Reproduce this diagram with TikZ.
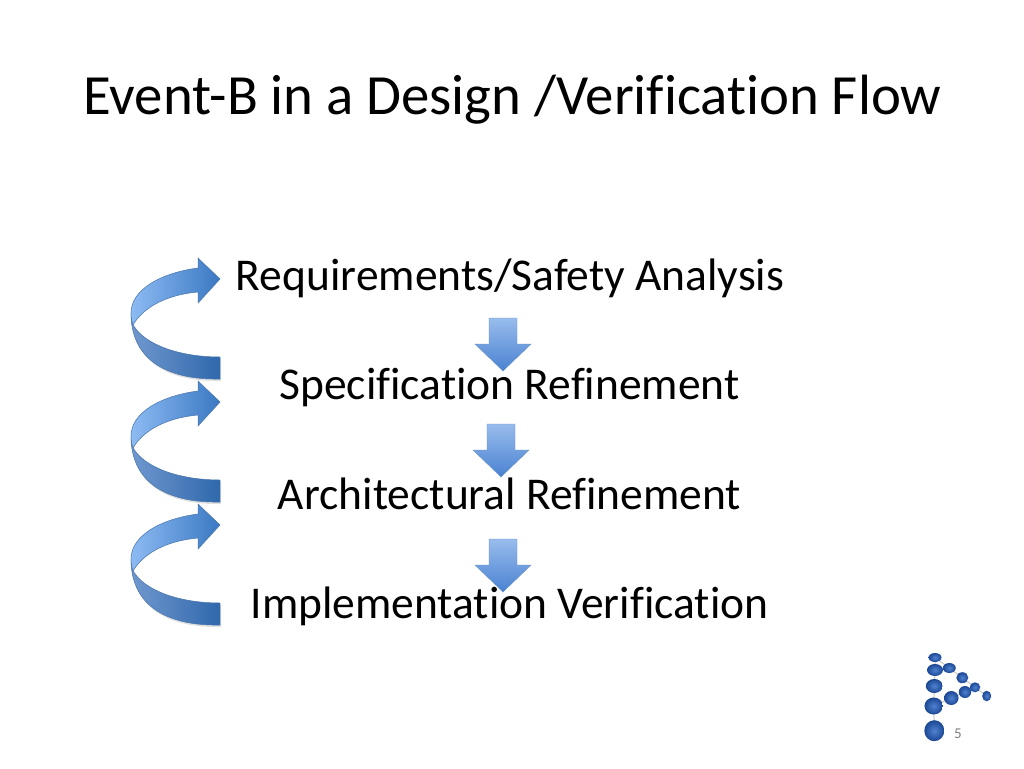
\documentclass[tikz,border=0pt]{standalone}
\usepackage{fontspec}
\setmainfont[Ligatures=NoCommon]{Carlito}
\usetikzlibrary{shapes.geometric}
\definecolor{edgeblue}{HTML}{4F81BD}
\definecolor{upperL}{HTML}{8DBBF3}
\definecolor{upperR}{HTML}{3A78C2}
\definecolor{lowerL}{HTML}{7098CE}
\definecolor{lowerR}{HTML}{2F68AC}
\definecolor{arrowtop}{HTML}{98BCEC}
\definecolor{arrowbot}{HTML}{4A82D2}
\definecolor{ballin}{HTML}{4F82D0}
\definecolor{ballout}{HTML}{1B4794}
\tikzset{
  x=1pt,y=-1pt,
  titletext/.style={anchor=base,inner sep=0pt,font=\fontsize{56.8}{64}\selectfont,text=black},
  bodytext/.style={anchor=base,inner sep=0pt,font=\fontsize{45.5}{52}\selectfont,text=black},
  upperband/.style={draw=edgeblue!90!black,line width=0.5pt,left color=upperL,right color=upperR},
  lowerband/.style={draw=edgeblue!90!black,line width=0.5pt,left color=lowerL,right color=lowerR},
  softshadow/.style={fill=black,opacity=0.12,draw=none},
  sphere/.style={ellipse,inner sep=0pt,inner color=ballin,outer color=ballout,draw=none},
  logolink/.style={draw=black!22,line width=1pt}
}
\newcommand{\curvedarrow}[1]{%
  \begin{scope}[yshift=-#1pt]
    \fill[softshadow] (134,325) .. controls (146,347) and (181,359) .. (221,359)
      -- (221,381) .. controls (171,382) and (133,364) .. (133,318) -- cycle;
    \path[lowerband] (133,325) .. controls (145,345) and (180,357) .. (220,357)
      -- (220,379) .. controls (170,380) and (131,362) .. (131,313) -- cycle;
    \path[upperband] (198,268) -- (198,258) -- (220,279) -- (198,303) -- (198,292)
      .. controls (165,295) and (143,308) .. (133,325)
      .. controls (132,322) and (131,318) .. (131,313)
      .. controls (131,290) and (160,273) .. (198,268) -- cycle;
  \end{scope}}
\newcommand{\straightarrow}[2]{%
  \path[draw=edgeblue!85,line width=0.4pt,top color=arrowtop,bottom color=arrowbot]
    (#1-14,#2) -- (#1+14,#2) -- (#1+14,#2+26) -- (#1+28,#2+26) -- (#1,#2+53) -- (#1-28,#2+26) -- (#1-14,#2+26) -- cycle;}
\begin{document}
\begin{tikzpicture}
\useasboundingbox (0,0) rectangle (1024,768);
\fill[white] (0,0) rectangle (1024,768);
% curved arrows
\curvedarrow{0}
\curvedarrow{123}
\curvedarrow{246}
% straight arrows
\straightarrow{503}{318}
\straightarrow{501}{424}
\straightarrow{503}{539}
% text
\node[titletext] (title) at (512.5,114) {Event-B in a Design /Verification Flow};
\node[bodytext] (req) at (510,290) {Requirements/Safety Analysis};
\node[bodytext] (spec) at (509.5,399) {Specification Refinement};
\node[bodytext] (arch) at (509.5,509) {Architectural Refinement};
\node[bodytext] (impl) at (509.5,618) {Implementation Verification};
% logo
\coordinate (s1) at (935,657.5);
\coordinate (s2) at (935,670);
\coordinate (s3) at (949.3,668);
\coordinate (s4) at (962.3,677.7);
\coordinate (s5) at (934.3,686);
\coordinate (s6) at (975,687.3);
\coordinate (s7) at (986.7,696);
\coordinate (s8) at (965,692);
\coordinate (s9) at (951.3,698);
\coordinate (s10) at (933.7,706);
\coordinate (s11) at (934.3,730.7);
\draw[logolink] (s1) -- (s2) -- (s5) -- (s10) -- (s11);
\draw[logolink] (s1) -- (s3) -- (s4) -- (s6) -- (s7);
\draw[logolink] (s10) -- (s9) -- (s8) -- (s6);
\node[sphere,minimum width=13pt,minimum height=9pt] (b1) at (s1) {};
\node[sphere,minimum width=16pt,minimum height=12pt] (b2) at (s2) {};
\node[sphere,minimum width=13pt,minimum height=10pt] (b3) at (s3) {};
\node[sphere,minimum width=12pt,minimum height=11pt] (b4) at (s4) {};
\node[sphere,minimum width=17pt,minimum height=14pt] (b5) at (s5) {};
\node[sphere,minimum width=10.5pt,minimum height=10pt] (b6) at (s6) {};
\node[sphere,minimum width=9pt,minimum height=10.5pt] (b7) at (s7) {};
\node[sphere,minimum width=12.5pt,minimum height=12pt] (b8) at (s8) {};
\node[sphere,minimum width=14.5pt,minimum height=14pt] (b9) at (s9) {};
\node[sphere,minimum width=18.5pt,minimum height=17pt] (b10) at (s10) {};
\node[sphere,minimum width=20pt,minimum height=21pt] (b11) at (s11) {};
\node[anchor=base,inner sep=0pt,font=\fontsize{15}{17}\selectfont,text=black!50] (page) at (958,738) {5};
\end{tikzpicture}
\end{document}
